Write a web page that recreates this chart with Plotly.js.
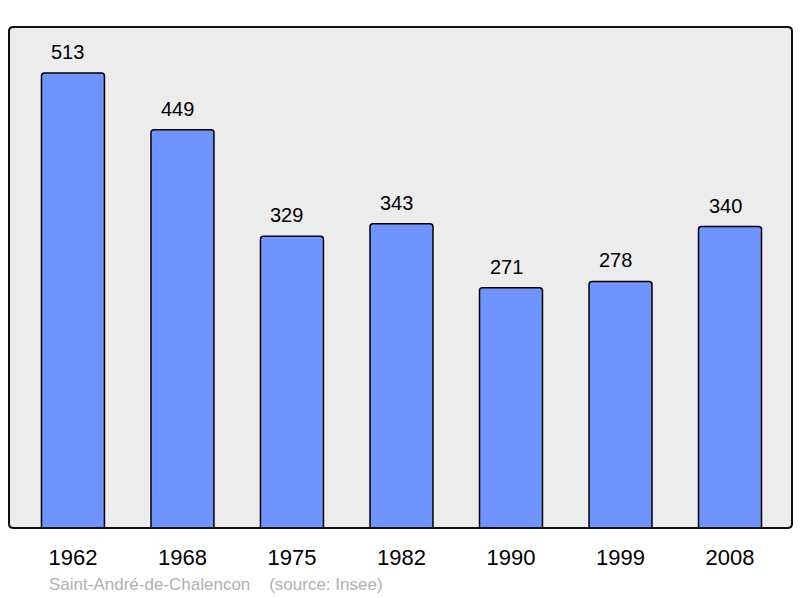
<!DOCTYPE html>
<html lang="fr">
<head>
    <meta charset="UTF-8">
    <title>Population</title>
    <script src="https://cdn.plot.ly/plotly-3.0.1.min.js"></script>
    <style>
        body { margin: 0; }
    </style>
</head>
<body>
<div id="plot" style="width:800px;height:598px;"></div>
<script>
    // recensements
    const years = ['1962', '1968', '1975', '1982', '1990', '1999', '2008']
    const population = [513, 449, 329, 343, 271, 278, 340]
    const commune = 'Saint-André-de-Chalencon'
    const source = '(source: Insee)'

    const bars = {
        x: years,
        y: population,
        type: 'bar',
        width: 0.575,
        marker: {
            color: '#7094ff',
            line: {color: '#000', width: 1.5},
            cornerradius: 3
        },
        hoverinfo: 'x+y'
    }

    // category axis -> annotation x is the category index
    const labels = years.map((yr, i) => ({
        x: i,
        y: population[i],
        text: String(population[i]),
        showarrow: false,
        yanchor: 'bottom',
        yshift: 8,
        xshift: -5,
        font: {size: 20, color: '#000'}
    }))

    labels.push({
        xref: 'paper', yref: 'paper',
        x: 0.0485, y: -0.112,
        xanchor: 'left', yanchor: 'middle',
        text: commune + '\u00a0\u00a0\u00a0\u00a0' + source,
        showarrow: false,
        font: {size: 17, color: '#b0b0b0'}
    })

    const layout = {
        width: 800,
        height: 598,
        margin: {l: 9, r: 8, t: 27, b: 70},
        paper_bgcolor: '#fff',
        plot_bgcolor: '#ececec',
        font: {family: 'Liberation Sans, Arial, sans-serif', color: '#000'},
        showlegend: false,
        xaxis: {
            type: 'category',
            range: [-0.584, 6.566],
            ticks: 'outside',
            ticklen: 10,
            tickcolor: 'rgba(0,0,0,0)',
            tickfont: {size: 22},
            showgrid: false,
            zeroline: false,
            fixedrange: true
        },
        yaxis: {
            range: [0, 565],
            visible: false,
            showgrid: false,
            zeroline: false,
            fixedrange: true
        },
        shapes: [{
            type: 'path',
            xref: 'paper', yref: 'paper',
            path: 'M 0.006,0 L 0.994,0 Q 1,0 1,0.008 L 1,0.992 Q 1,1 0.994,1 L 0.006,1 Q 0,1 0,0.992 L 0,0.008 Q 0,0 0.006,0 Z',
            line: {color: '#111', width: 2}
        }],
        annotations: labels
    }

    Plotly.newPlot('plot', [bars], layout, {displayModeBar: false, staticPlot: true})
</script>
</body>
</html>
